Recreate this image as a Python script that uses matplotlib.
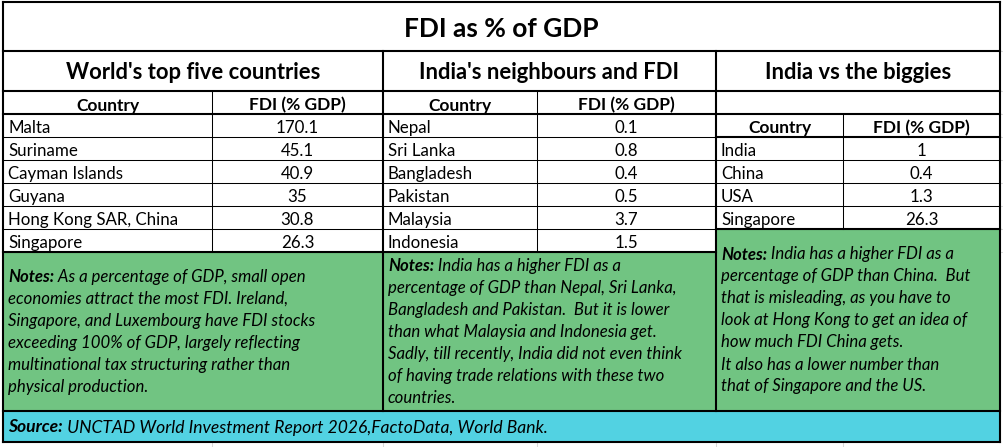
import matplotlib.pyplot as plt

# ---- data -------------------------------------------------------------
title = "FDI as % of GDP"
col_headers = ["Country", "FDI (% GDP)"]

top_five_title = "World's top five countries"
top_five_countries = ["Malta", "Suriname", "Cayman Islands", "Guyana",
                      "Hong Kong SAR, China", "Singapore"]
top_five_fdi = ["170.1", "45.1", "40.9", "35", "30.8", "26.3"]

neighbours_title = "India's neighbours and FDI"
neighbours_countries = ["Nepal", "Sri Lanka", "Bangladesh", "Pakistan",
                        "Malaysia", "Indonesia"]
neighbours_fdi = ["0.1", "0.8", "0.4", "0.5", "3.7", "1.5"]

biggies_title = "India vs the biggies"
biggies_countries = ["India", "China", "USA", "Singapore"]
biggies_fdi = ["1", "0.4", "1.3", "26.3"]

notes_top_five = [
    "As a percentage of GDP, small open",
    "economies attract the most FDI. Ireland,",
    "Singapore, and Luxembourg have FDI stocks",
    "exceeding 100% of GDP, largely reflecting",
    "multinational tax structuring rather than",
    "physical production.",
]
notes_neighbours = [
    "India has a higher FDI as a",
    "percentage of GDP than Nepal, Sri Lanka,",
    "Bangladesh and Pakistan.  But it is lower",
    "than what Malaysia and Indonesia get.",
    "Sadly, till recently, India did not even think",
    "of having trade relations with these two",
    "countries.",
]
notes_biggies = [
    "India has a higher FDI as a",
    "percentage of GDP than China.  But",
    "that is misleading, as you have to",
    "look at Hong Kong to get an idea of",
    "how much FDI China gets.",
    "It also has a lower number than",
    "that of Singapore and the US.",
]
source_text = "UNCTAD World Investment Report 2026,FactoData, World Bank."

# ---- style ------------------------------------------------------------
plt.rcParams["font.family"] = ["Lato", "DejaVu Sans"]
GREEN = "#71C482"
CYAN = "#52D2E2"
THICK = 1.5
THIN = 0.75
BODY = 12.2
HEAD = 12.5
NOTE = 12.1

W, H = 1004, 447
fig = plt.figure(figsize=(W / 100, H / 100), dpi=100)
ax = fig.add_axes([0, 0, 1, 1])
ax.set_xlim(0, W)
ax.set_ylim(H, 0)
ax.axis("off")

# row edges (pixel grid of the sheet)
L, R, TOP, BOT = 3, 1000, 2, 442
Y_TITLE = 51
Y_SECT = 91
ROW = 23
rows = [Y_SECT + i * ROW for i in range(8)]  # 91 .. 252
Y_NOTES_END = 411
X1, X2 = 383, 716
XC1, XC2, XC3 = 212, 537, 843


def hline(y, x0, x1, lw):
    ax.plot([x0, x1], [y, y], color="black", lw=lw, solid_capstyle="projecting")


def vline(x, y0, y1, lw):
    ax.plot([x, x], [y0, y1], color="black", lw=lw, solid_capstyle="projecting")


def fill(x0, y0, x1, y1, color):
    ax.add_patch(plt.Rectangle((x0, y0), x1 - x0, y1 - y0, color=color, lw=0, zorder=0))


def table(x0, xc, x1, head_row, countries, values):
    # column headers
    yb = rows[head_row + 1]
    ax.text((x0 + xc) / 2, yb - 3.5, col_headers[0], ha="center", va="baseline",
            fontsize=HEAD, fontweight="bold")
    ax.text((xc + x1) / 2, yb - 3.5, col_headers[1], ha="center", va="baseline",
            fontsize=HEAD, fontweight="bold")
    hline(yb, x0, x1, THICK)
    vline(xc, rows[head_row], rows[head_row + 1 + len(countries)], THIN)
    for i, (c, v) in enumerate(zip(countries, values)):
        yb = rows[head_row + 2 + i]
        ax.text(x0 + 5, yb - 4, c, ha="left", va="baseline", fontsize=BODY)
        ax.text((xc + x1) / 2, yb - 4, v, ha="center", va="baseline", fontsize=BODY)
        hline(yb, x0, x1, THIN)


def mixed_line(x, y, bold, rest, size):
    t = ax.text(x, y, bold, ha="left", va="baseline", fontsize=size,
                fontweight="bold", style="italic")
    ax.annotate(" " + rest, xy=(1, 0), xycoords=t, ha="left", va="bottom",
                fontsize=size, style="italic")


def notes(x0, y0, x1, y1, lines):
    fill(x0, y0, x1, y1, GREEN)
    n = len(lines)
    mid = (y0 + y1) / 2 + 5.5
    for k, line in enumerate(lines):
        yb = mid + (k - (n - 1) / 2) * 22
        if k == 0:
            mixed_line(x0 + 5, yb, "Notes:", line, NOTE)
        else:
            ax.text(x0 + 5, yb, line, ha="left", va="baseline", fontsize=NOTE,
                    style="italic")


# faint sheet gridlines outside the table
for x in [XC1, X1, XC2, X2, XC3]:
    ax.plot([x, x], [BOT, H], color="#d9d9d9", lw=0.75)
for y in [Y_TITLE, Y_SECT] + rows[1:]:
    ax.plot([R, W], [y, y], color="#d9d9d9", lw=0.75)

# title
ax.text((L + R) / 2, 37.3, title, ha="center", va="baseline", fontsize=19,
        fontweight="bold")

# section headers
for (x0, x1, t) in [(L, X1, top_five_title), (X1, X2, neighbours_title),
                    (X2, R, biggies_title)]:
    ax.text((x0 + x1) / 2, Y_SECT - 12, t, ha="center", va="baseline",
            fontsize=15.8, fontweight="bold")

table(L, XC1, X1, 0, top_five_countries, top_five_fdi)
table(X1, XC2, X2, 0, neighbours_countries, neighbours_fdi)
table(X2, XC3, R, 1, biggies_countries, biggies_fdi)

# notes
notes(L, rows[7], X1, Y_NOTES_END, notes_top_five)
notes(X1, rows[7], X2, Y_NOTES_END, notes_neighbours)
notes(X2, rows[6], R, Y_NOTES_END, notes_biggies)

# source row
fill(L, Y_NOTES_END, R, BOT, CYAN)
mixed_line(L + 5, (Y_NOTES_END + BOT) / 2 + 6, "Source:", source_text, 12.6)

# thick structure lines
hline(TOP, L, R, THICK)
hline(BOT, L, R, THICK)
vline(L, TOP, BOT, THICK)
vline(R, TOP, BOT, THICK)
hline(Y_TITLE, L, R, THICK)
hline(Y_SECT, L, R, THICK)
hline(rows[1], X2, R, THICK)
vline(X1, Y_TITLE, Y_NOTES_END, THICK)
vline(X2, Y_TITLE, Y_NOTES_END, THICK)
hline(rows[7], L, X2, THICK)
hline(rows[6], X2, R, THICK)
hline(Y_NOTES_END, L, R, THICK)

fig.savefig("out.png", dpi=100)
